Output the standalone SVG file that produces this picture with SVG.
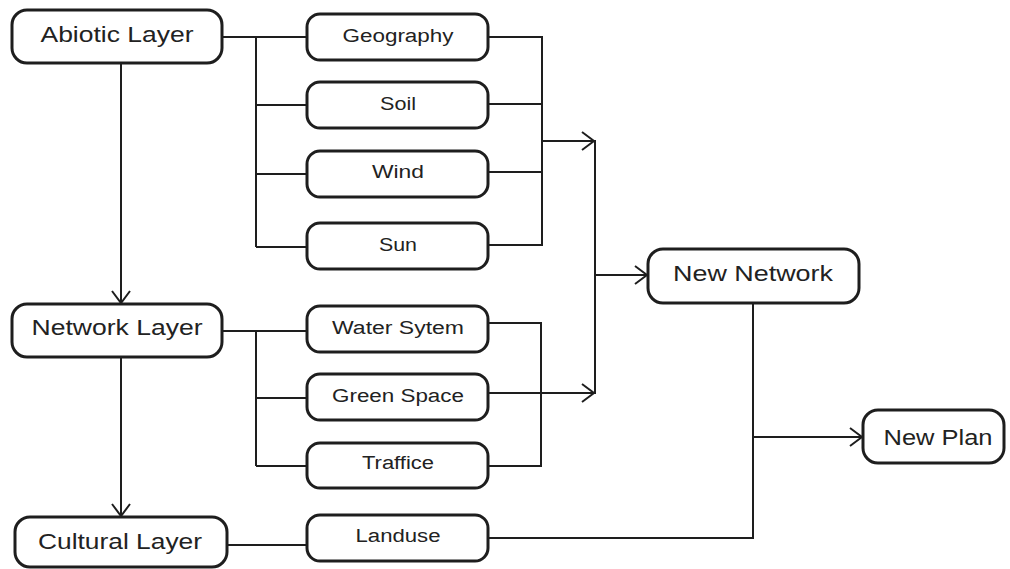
<svg xmlns="http://www.w3.org/2000/svg" width="1010" height="569" viewBox="0 0 1010 569">
  <style>
    .box { fill: #ffffff; stroke: #1e1e1e; stroke-width: 3; }
    .wire { fill: none; stroke: #1e1e1e; stroke-width: 2; }
    .big { font-family: "Liberation Sans", Arial, sans-serif; font-size: 22px; fill: #222222; text-anchor: middle; }
    .small { font-family: "Liberation Sans", Arial, sans-serif; font-size: 18px; fill: #222222; text-anchor: middle; }
  </style>
  <defs>
    <marker id="open-arrow" markerUnits="userSpaceOnUse" markerWidth="16" markerHeight="22" viewBox="-14 -11 16 22" refX="0" refY="0" orient="auto">
      <path d="M-12,-9 L0,0 L-12,9" fill="none" stroke="#1e1e1e" stroke-width="2"/>
    </marker>
  </defs>
  <rect width="1010" height="569" fill="#ffffff"/>

  <g id="connectors">
    <!-- layer chain -->
    <line class="wire" x1="121" y1="63" x2="121" y2="303" marker-end="url(#open-arrow)"/>
    <line class="wire" x1="121" y1="357" x2="121" y2="516" marker-end="url(#open-arrow)"/>

    <!-- abiotic fan-out -->
    <line class="wire" x1="222" y1="37" x2="307" y2="37"/>
    <line class="wire" x1="256" y1="37" x2="256" y2="247"/>
    <line class="wire" x1="256" y1="105" x2="307" y2="105"/>
    <line class="wire" x1="256" y1="174" x2="307" y2="174"/>
    <line class="wire" x1="256" y1="247" x2="307" y2="247"/>

    <!-- abiotic fan-in -->
    <line class="wire" x1="488" y1="37" x2="542" y2="37"/>
    <line class="wire" x1="488" y1="104" x2="542" y2="104"/>
    <line class="wire" x1="488" y1="172" x2="542" y2="172"/>
    <line class="wire" x1="488" y1="245" x2="542" y2="245"/>
    <line class="wire" x1="542" y1="36" x2="542" y2="246"/>
    <line class="wire" x1="542" y1="141" x2="594" y2="141" marker-end="url(#open-arrow)"/>

    <!-- network fan-out -->
    <line class="wire" x1="222" y1="331" x2="307" y2="331"/>
    <line class="wire" x1="256" y1="331" x2="256" y2="466"/>
    <line class="wire" x1="255" y1="398" x2="307" y2="398"/>
    <line class="wire" x1="256" y1="466" x2="307" y2="466"/>

    <!-- network fan-in -->
    <line class="wire" x1="488" y1="323" x2="541" y2="323"/>
    <line class="wire" x1="488" y1="466" x2="541" y2="466"/>
    <line class="wire" x1="541" y1="322" x2="541" y2="467"/>
    <line class="wire" x1="488" y1="393" x2="594" y2="393" marker-end="url(#open-arrow)"/>

    <!-- collector into New Network -->
    <line class="wire" x1="595" y1="140" x2="595" y2="394"/>
    <line class="wire" x1="595" y1="275" x2="647" y2="275" marker-end="url(#open-arrow)"/>

    <!-- cultural / landuse -->
    <line class="wire" x1="227" y1="545" x2="307" y2="545"/>
    <polyline class="wire" points="488,538 753,538 753,304"/>
    <line class="wire" x1="753" y1="437" x2="862" y2="437" marker-end="url(#open-arrow)"/>
  </g>

  <g id="abiotic-layer">
    <rect class="box" x="12" y="10" width="210" height="53" rx="15"/>
    <text class="big" x="117" y="42" textLength="153" lengthAdjust="spacingAndGlyphs">Abiotic Layer</text>
  </g>
  <g id="network-layer">
    <rect class="box" x="12" y="304" width="210" height="53" rx="15"/>
    <text class="big" x="117" y="335" textLength="171" lengthAdjust="spacingAndGlyphs">Network Layer</text>
  </g>
  <g id="cultural-layer">
    <rect class="box" x="15" y="517" width="212" height="50" rx="15"/>
    <text class="big" x="120" y="549" textLength="164" lengthAdjust="spacingAndGlyphs">Cultural Layer</text>
  </g>

  <g id="geography">
    <rect class="box" x="307" y="14" width="181" height="46" rx="13"/>
    <text class="small" x="398" y="42" textLength="111" lengthAdjust="spacingAndGlyphs">Geography</text>
  </g>
  <g id="soil">
    <rect class="box" x="307" y="82" width="181" height="46" rx="13"/>
    <text class="small" x="398" y="110" textLength="36" lengthAdjust="spacingAndGlyphs">Soil</text>
  </g>
  <g id="wind">
    <rect class="box" x="307" y="151" width="181" height="46" rx="13"/>
    <text class="small" x="398" y="178" textLength="52" lengthAdjust="spacingAndGlyphs">Wind</text>
  </g>
  <g id="sun">
    <rect class="box" x="307" y="223" width="181" height="46" rx="13"/>
    <text class="small" x="398" y="251" textLength="38" lengthAdjust="spacingAndGlyphs">Sun</text>
  </g>

  <g id="water-system">
    <rect class="box" x="307" y="306" width="181" height="46" rx="13"/>
    <text class="small" x="398" y="334" textLength="132" lengthAdjust="spacingAndGlyphs">Water Sytem</text>
  </g>
  <g id="green-space">
    <rect class="box" x="307" y="374" width="181" height="46" rx="13"/>
    <text class="small" x="398" y="402" textLength="132" lengthAdjust="spacingAndGlyphs">Green Space</text>
  </g>
  <g id="traffice">
    <rect class="box" x="307" y="443" width="181" height="45" rx="13"/>
    <text class="small" x="398" y="469" textLength="72" lengthAdjust="spacingAndGlyphs">Traffice</text>
  </g>
  <g id="landuse">
    <rect class="box" x="307" y="515" width="181" height="46" rx="13"/>
    <text class="small" x="398" y="542" textLength="85" lengthAdjust="spacingAndGlyphs">Landuse</text>
  </g>

  <g id="new-network">
    <rect class="box" x="648" y="249" width="211" height="54" rx="15"/>
    <text class="big" x="753" y="281" textLength="160" lengthAdjust="spacingAndGlyphs">New Network</text>
  </g>
  <g id="new-plan">
    <rect class="box" x="863" y="410" width="141" height="53" rx="15"/>
    <text class="big" x="938" y="445" textLength="109" lengthAdjust="spacingAndGlyphs">New Plan</text>
  </g>
</svg>
